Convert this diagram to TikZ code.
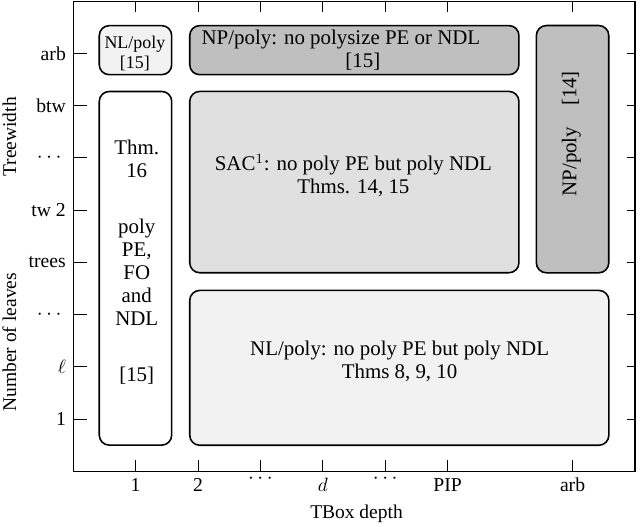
\documentclass[tikz,border=0pt]{standalone}
\usepackage{fontspec}
\setmainfont{Liberation Serif}
\begin{document}
\begin{tikzpicture}[x=1.25cm, y=1.046cm,
	region/.style={draw, line width=0.9pt, rounded corners=0.2cm, inner sep=0pt},
	regiontext/.style={align=center, inner sep=0pt, font=\fontsize{11.9}{13.1}\selectfont},
	ticklabel/.style={inner sep=0pt, font=\fontsize{11.2}{13.1}\selectfont},
	tickdots/.style={inner sep=0pt, font=\fontsize{13}{14}\selectfont},
	axislabel/.style={inner sep=0pt, font=\fontsize{11.1}{13.1}\selectfont}]
	\useasboundingbox (-1.17,-1.05) rectangle (9.08,9.02);
	% frame and ticks
	\draw[line width=0.6pt] (0,0) rectangle (9,9);
	\foreach \x in {1,...,6,8} {
		\draw (\x,0) -- (\x,0.22);
		\draw (\x,9) -- (\x,8.79);
	}
	\foreach \y in {1,...,8} {
		\draw (0,\y) -- (0.22,\y);
		\draw (9,\y) -- (8.87,\y);
	}
	% tick labels
	\foreach \x/\lab in {1/1, 2/2, 4/$d$, 6/PIP, 8/arb}
		\node[ticklabel, anchor=base] (xl\x) at (\x,-0.38) {\lab};
	\node[tickdots] (xl3) at (3,-0.15) {$\cdots$};
	\node[tickdots] (xl5) at (5,-0.15) {$\cdots$};
	\foreach \y/\lab in {1/1, 2/$\ell$, 4/trees, 5/tw 2, 7/btw, 8/arb}
		\node[ticklabel, anchor=east] (yl\y) at (-0.11,\y) {\lab};
	\node[tickdots, anchor=east] (yl3) at (-0.18,3) {$\cdots$};
	\node[tickdots, anchor=east] (yl6) at (-0.18,6) {$\cdots$};
	\node[axislabel, rotate=90] (tw) at (-1.02,6.4) {Treewidth};
	\node[axislabel, rotate=90] (leaves) at (-1.02,2.47) {Number of leaves};
	\node[axislabel, anchor=base] (depth) at (4.54,-0.91) {TBox depth};
	% regions
	\node[region, fill=black!5, minimum width=1.45cm, minimum height=0.983cm] (nlarb) at (1,8.06) {};
	\node[region, fill=black!25, minimum width=6.59cm, minimum height=0.983cm] (nparb) at (4.505,8.06) {};
	\node[region, fill=black!25, minimum width=1.45cm, minimum height=4.95cm] (nppip) at (8,6.165) {};
	\node[region, fill=black!12, minimum width=6.59cm, minimum height=3.63cm] (sac) at (4.505,5.535) {};
	\node[region, fill=white, minimum width=1.45cm, minimum height=7.08cm] (fo) at (1,3.885) {};
	\node[region, fill=black!5, minimum width=8.39cm, minimum height=3.1cm] (nl) at (5.225,1.98) {};
	% region texts
	\node[regiontext, font=\fontsize{10.2}{11.4}\selectfont] (nlarbtext) at (0.99,8.0) {NL/poly\\\relax [15]};
	\node[regiontext] (nparbtext) at (4.29,8.06) {NP/poly: no polysize PE or NDL\\\hspace{0.88cm}[15]};
	\node[regiontext, rotate=90] (nppiptext) at (7.98,6.46) {NP/poly\quad[14]};
	\node[regiontext] (sactext) at (4.49,5.66) {SAC$^1$: no poly PE but poly NDL\\Thms. 14, 15};
	\node[regiontext] (fotext) at (1.02,4.0) {Thm.\\16\\[19pt]poly\\PE,\\FO\\and\\NDL\\[19pt]\relax [15]};
	\node[regiontext] (nltext) at (5.23,2.1) {NL/poly: no poly PE but poly NDL\\Thms 8, 9, 10};
\end{tikzpicture}
\end{document}
